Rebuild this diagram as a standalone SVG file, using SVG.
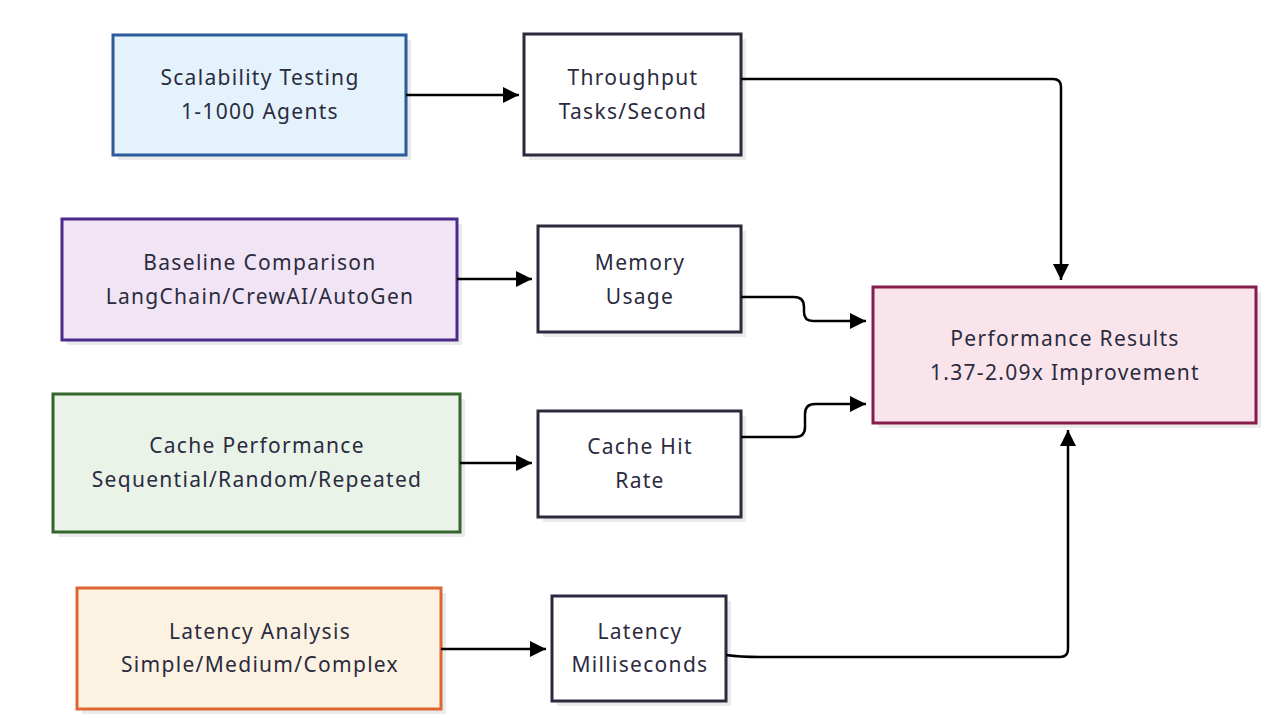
<svg xmlns="http://www.w3.org/2000/svg" width="1278" height="726" viewBox="0 0 1278 726">
<defs>
<marker id="arr" viewBox="0 0 10 10" refX="10" refY="5" markerWidth="16" markerHeight="16" markerUnits="userSpaceOnUse" orient="auto">
<path d="M0,0 L10,5 L0,10 Z" fill="#000"/>
</marker>
</defs>
<style>
.sh{fill:#ebebeb;}
.box{stroke-width:3;}
.plain{fill:#ffffff;stroke:#2b2b40;}
.t{font-family:"Noto Sans","Open Sans",sans-serif;font-size:21px;letter-spacing:1.3px;fill:#2b2b40;text-anchor:middle;}
.e{fill:none;stroke:#000;stroke-width:2.5;marker-end:url(#arr);}
</style>
<rect width="1278" height="726" fill="#ffffff"/>
<g id="scalability">
<rect class="sh" x="118" y="40" width="293" height="120"/>
<rect class="box" x="113" y="35" width="293" height="120" fill="#e4f2fc" stroke="#2b5b98"/>
<text class="t" x="260" y="85">Scalability Testing</text>
<text class="t" x="260" y="119">1-1000 Agents</text>
</g>
<g id="throughput">
<rect class="sh" x="529" y="39" width="217" height="121"/>
<rect class="box plain" x="524" y="34" width="217" height="121"/>
<text class="t" x="633" y="85">Throughput</text>
<text class="t" x="633" y="119">Tasks/Second</text>
</g>
<g id="baseline">
<rect class="sh" x="67" y="224" width="395" height="121"/>
<rect class="box" x="62" y="219" width="395" height="121" fill="#f1e4f4" stroke="#4a2a8a"/>
<text class="t" x="260" y="270">Baseline Comparison</text>
<text class="t" x="260" y="304">LangChain/CrewAI/AutoGen</text>
</g>
<g id="memory">
<rect class="sh" x="543" y="231" width="203" height="106"/>
<rect class="box plain" x="538" y="226" width="203" height="106"/>
<text class="t" x="640" y="270">Memory</text>
<text class="t" x="640" y="304">Usage</text>
</g>
<g id="cacheperf">
<rect class="sh" x="58" y="399" width="407" height="138"/>
<rect class="box" x="53" y="394" width="407" height="138" fill="#e9f3e8" stroke="#35652c"/>
<text class="t" x="257" y="453">Cache Performance</text>
<text class="t" x="257" y="487">Sequential/Random/Repeated</text>
</g>
<g id="cachehit">
<rect class="sh" x="543" y="416" width="203" height="106"/>
<rect class="box plain" x="538" y="411" width="203" height="106"/>
<text class="t" x="640" y="454">Cache Hit</text>
<text class="t" x="640" y="488">Rate</text>
</g>
<g id="latencyanalysis">
<rect class="sh" x="82" y="593" width="364" height="121"/>
<rect class="box" x="77" y="588" width="364" height="121" fill="#fcf2e2" stroke="#dd6633"/>
<text class="t" x="260" y="639">Latency Analysis</text>
<text class="t" x="260" y="672">Simple/Medium/Complex</text>
</g>
<g id="latency">
<rect class="sh" x="557" y="601" width="174" height="105"/>
<rect class="box plain" x="552" y="596" width="174" height="105"/>
<text class="t" x="640" y="639">Latency</text>
<text class="t" x="640" y="672">Milliseconds</text>
</g>
<g id="results">
<rect class="sh" x="878" y="292" width="383" height="136"/>
<rect class="box" x="873" y="287" width="383" height="136" fill="#f8e4ea" stroke="#851c4c"/>
<text class="t" x="1065" y="346">Performance Results</text>
<text class="t" x="1065" y="380">1.37-2.09x Improvement</text>
</g>
<g id="connectors">
<path class="e" d="M406,95 L519,95"/>
<path class="e" d="M741,79 L1053,79 Q1061,79 1061,87 L1061,280"/>
<path class="e" d="M457,279 L532,279"/>
<path class="e" d="M741,297 L794,297 Q804,297 804,307 L804,312 Q804,321 813,321 L866,321"/>
<path class="e" d="M460,463 L532,463"/>
<path class="e" d="M741,437 L795,437 Q805,437 805,427 L805,414 Q805,404 815,404 L866,404"/>
<path class="e" d="M441,649 L546,649"/>
<path class="e" d="M726,655 Q740,657 760,657 L1060,657 Q1068,657 1068,649 L1068,430"/>
</g>
</svg>
